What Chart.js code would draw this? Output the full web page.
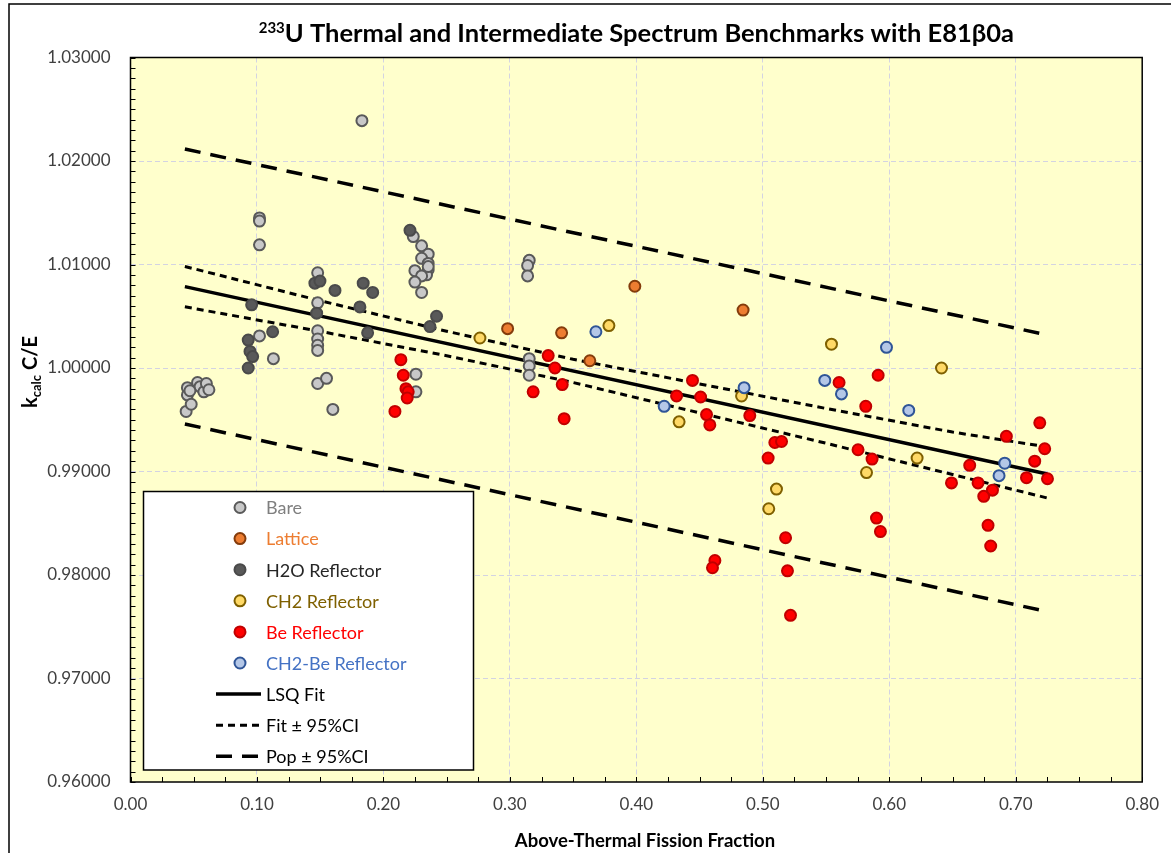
<!DOCTYPE html>
<html>
<head>
<meta charset="utf-8">
<script src="https://cdn.jsdelivr.net/npm/chart.js@4.4.1/dist/chart.umd.min.js"></script>
<style>
  html, body { margin: 0; padding: 0; background: #fff; }
  #wrap { width: 1171px; height: 853px; position: relative; }
</style>
</head>
<body>
<div id="wrap"><canvas id="chart"></canvas></div>
<script>
// values
const bareX = [0.045, 0.045, 0.044, 0.048, 0.053, 0.055, 0.058, 0.060, 0.062, 0.047,
  0.102, 0.102, 0.102, 0.102, 0.113,
  0.148, 0.148, 0.148, 0.148, 0.148, 0.148, 0.148, 0.155, 0.160,
  0.183,
  0.2236, 0.2302, 0.2354, 0.2302, 0.2354, 0.2354, 0.2341, 0.2249, 0.2302, 0.2249, 0.2302, 0.2354,
  0.2257, 0.2257,
  0.3153, 0.314, 0.314, 0.3153, 0.3153, 0.3153];
const bareY = [0.9981, 0.9974, 0.9958, 0.9965, 0.9986, 0.9982, 0.9977, 0.9985, 0.9979, 0.9978,
  1.0145, 1.0142, 1.0119, 1.0031, 1.0009,
  1.0092, 1.0063, 1.0036, 1.0028, 1.0022, 1.0017, 0.9985, 0.9990, 0.9960,
  1.0239,
  1.0127, 1.0118, 1.0110, 1.0106, 1.0101, 1.0095, 1.0090, 1.0094, 1.0089, 1.0083, 1.0073, 1.0098,
  0.9994, 0.9977,
  1.0104, 1.0099, 1.0089, 1.0009, 1.0002, 0.9993];

const latticeX = [0.2982, 0.3409, 0.3632, 0.3988, 0.4844];
const latticeY = [1.0038, 1.0034, 1.0007, 1.0079, 1.0056];

const h2oX = [0.0958, 0.0931, 0.0945, 0.0966, 0.0931, 0.1124, 0.1458, 0.1498, 0.1472,
  0.1617, 0.184, 0.1915, 0.1814, 0.1875, 0.2368, 0.242, 0.221];
const h2oY = [1.0061, 1.0027, 1.0016, 1.0011, 1.0000, 1.0035, 1.0082, 1.0084, 1.0053,
  1.0075, 1.0082, 1.0073, 1.0059, 1.0034, 1.0040, 1.0050, 1.0133];

const ch2X = [0.2763, 0.3783, 0.4338, 0.4832, 0.5543, 0.6413, 0.622, 0.582, 0.5108, 0.5047];
const ch2Y = [1.0029, 1.0041, 0.9948, 0.9973, 1.0023, 1.0000, 0.9913, 0.9899, 0.9883, 0.9864];

const beX = [0.2138, 0.2157, 0.2178, 0.2196, 0.2188, 0.2091, 0.3303, 0.3356, 0.3414, 0.3184,
  0.3429, 0.4444, 0.4318, 0.4508, 0.4555, 0.4581, 0.4897, 0.4621, 0.4602, 0.5912,
  0.5603, 0.5814, 0.719, 0.6926, 0.7229, 0.5753, 0.5864, 0.5095, 0.5148, 0.5042,
  0.6636, 0.715, 0.7085, 0.7251, 0.6492, 0.6702, 0.6816, 0.6747, 0.5899, 0.593,
  0.6781, 0.6802, 0.518, 0.5195, 0.5219];
const beY = [1.0008, 0.9993, 0.9980, 0.9977, 0.9971, 0.9958, 1.0012, 1.0000, 0.9984, 0.9977,
  0.9951, 0.9988, 0.9973, 0.9972, 0.9955, 0.9945, 0.9954, 0.9814, 0.9807, 0.9993,
  0.9986, 0.9963, 0.9947, 0.9934, 0.9922, 0.9921, 0.9912, 0.9928, 0.9929, 0.9913,
  0.9906, 0.9910, 0.9894, 0.9893, 0.9889, 0.9889, 0.9882, 0.9876, 0.9855, 0.9842,
  0.9848, 0.9828, 0.9836, 0.9804, 0.9761];

const ch2BeX = [0.368, 0.422, 0.4852, 0.549, 0.5622, 0.5978, 0.6154, 0.6913, 0.6868];
const ch2BeY = [1.0035, 0.9963, 0.9981, 0.9988, 0.9975, 1.0020, 0.9959, 0.9908, 0.9896];

const fitX = [0.043, 0.725];
const fitY = [1.00786, 0.98976];

const ciX = [0.043, 0.15, 0.25, 0.35, 0.45, 0.55, 0.65, 0.725];
const ciUpper = [1.00981, 1.00650, 1.00355, 1.00084, 0.99846, 0.99609, 0.99381, 0.99237];
const ciLower = [1.00591, 1.00354, 1.00119, 0.99860, 0.99566, 0.99273, 0.98971, 0.98744];

const popX = [0.043, 0.725];
const popUpper = [1.02116, 1.00319];
const popLower = [0.99459, 0.97646];

const FONT = 'Lato, "Open Sans", sans-serif';
const pts = (xs, ys) => xs.map((x, i) => ({ x, y: ys[i] }));

function markerSet(label, xs, ys, fill, edge, order) {
  return {
    type: 'scatter', label, data: pts(xs, ys),
    backgroundColor: fill, borderColor: edge,
    pointRadius: 5.5, pointBorderWidth: 2, pointHoverRadius: 5.5, order
  };
}

function lineSet(label, xs, ys, width, dash) {
  return {
    type: 'line', label, data: pts(xs, ys),
    borderColor: '#000', borderWidth: width, borderDash: dash,
    pointRadius: 0, fill: false, tension: 0, order: 10
  };
}

const legendRows = [
  { text: 'Bare', ds: 0, color: '#7f7f7f' },
  { text: 'Lattice', ds: 1, color: '#ed7d31' },
  { text: 'H2O Reflector', ds: 2, color: '#262626' },
  { text: 'CH2 Reflector', ds: 3, color: '#7f6000' },
  { text: 'Be Reflector', ds: 4, color: '#ff0000' },
  { text: 'CH2-Be Reflector', ds: 5, color: '#4472c4' },
  { text: 'LSQ Fit', ds: 6, color: '#000' },
  { text: 'Fit \u00b1 95%CI', ds: 7, color: '#000' },
  { text: 'Pop \u00b1 95%CI', ds: 9, color: '#000' }
];

const decor = {
  id: 'decor',
  beforeDraw(chart) {
    const { ctx, chartArea: a } = chart;
    ctx.save();
    ctx.fillStyle = '#fff';
    ctx.fillRect(0, 0, chart.width, chart.height);
    ctx.strokeStyle = '#000';
    ctx.lineWidth = 1.5;
    ctx.beginPath();
    ctx.moveTo(9, chart.height);
    ctx.lineTo(9, 4);
    ctx.lineTo(chart.width, 4);
    ctx.stroke();
    ctx.fillStyle = '#ffffcc';
    ctx.fillRect(a.left, a.top, a.right - a.left, a.bottom - a.top);
    ctx.restore();
  },
  beforeDatasetsDraw(chart) {
    const { ctx, chartArea: a, scales: { x, y } } = chart;
    ctx.save();
    ctx.strokeStyle = '#000';
    ctx.lineWidth = 1;
    ctx.beginPath();
    for (let v = 960; v <= 1030; v++) {
      const py = Math.round(y.getPixelForValue(v / 1000)) + 0.5;
      ctx.moveTo(a.left, py);
      ctx.lineTo(a.left + 5, py);
    }
    for (let k = 0; k <= 32; k++) {
      const px = Math.round(x.getPixelForValue(k * 0.025)) + 0.5;
      ctx.moveTo(px, a.bottom);
      ctx.lineTo(px, a.bottom - 5);
    }
    ctx.stroke();
    ctx.lineWidth = 1.5;
    ctx.strokeRect(a.left, a.top, a.right - a.left, a.bottom - a.top);
    ctx.restore();
  },
  afterDraw(chart) {
    const { ctx, chartArea: a } = chart;
    ctx.save();
    ctx.fillStyle = '#000';
    ctx.textBaseline = 'alphabetic';

    // title with superscript
    const big = 'bold 25.5px ' + FONT, small = 'bold 15px ' + FONT;
    const rest = 'U Thermal and Intermediate Spectrum Benchmarks with E81\u03b20a';
    ctx.font = small; const wSup = ctx.measureText('233').width;
    ctx.font = big; const wRest = ctx.measureText(rest).width;
    let tx = (a.left + a.right) / 2 - (wSup + wRest) / 2;
    ctx.font = small; ctx.fillText('233', tx, 33);
    ctx.font = big; ctx.fillText(rest, tx + wSup, 42);

    // x axis title
    ctx.font = 'bold 18.5px ' + FONT;
    ctx.textAlign = 'center';
    ctx.fillText('Above-Thermal Fission Fraction', 645, 847);

    // y axis title with subscript
    ctx.save();
    ctx.translate(37, 372);
    ctx.rotate(-Math.PI / 2);
    const yBig = 'bold 20px ' + FONT, ySmall = 'bold 13px ' + FONT;
    ctx.textAlign = 'left';
    ctx.font = yBig; const wk = ctx.measureText('k').width, wce = ctx.measureText(' C/E').width;
    ctx.font = ySmall; const wc = ctx.measureText('calc').width;
    let sx = -(wk + wc + wce) / 2;
    ctx.font = yBig; ctx.fillText('k', sx, 0);
    ctx.font = ySmall; ctx.fillText('calc', sx + wk, 4);
    ctx.font = yBig; ctx.fillText(' C/E', sx + wk + wc, 0);
    ctx.restore();

    // legend box
    const bx = 143.5, by = 491.5, bw = 330, bh = 278.5;
    ctx.fillStyle = '#fff';
    ctx.fillRect(bx, by, bw, bh);
    ctx.strokeStyle = '#000';
    ctx.lineWidth = 1.5;
    ctx.strokeRect(bx, by, bw, bh);
    ctx.font = '18px ' + FONT;
    ctx.textAlign = 'left';
    ctx.textBaseline = 'middle';
    legendRows.forEach((row, i) => {
      const ry = 507.5 + i * 31.1;
      const ds = chart.data.datasets[row.ds];
      if (ds.type === 'scatter') {
        ctx.beginPath();
        ctx.arc(240, ry, 5.5, 0, Math.PI * 2);
        ctx.fillStyle = ds.backgroundColor;
        ctx.fill();
        ctx.lineWidth = 2;
        ctx.strokeStyle = ds.borderColor;
        ctx.stroke();
      } else {
        ctx.beginPath();
        ctx.setLineDash(ds.borderDash);
        ctx.lineWidth = ds.borderWidth;
        ctx.strokeStyle = '#000';
        ctx.moveTo(216, ry);
        ctx.lineTo(261, ry);
        ctx.stroke();
        ctx.setLineDash([]);
      }
      ctx.fillStyle = row.color;
      ctx.fillText(row.text, 266, ry + 1);
    });
    ctx.restore();
  }
};

new Chart(document.getElementById('chart'), {
  data: {
    datasets: [
      markerSet('Bare', bareX, bareY, '#c8c8c8', '#595959', 6),
      markerSet('Lattice', latticeX, latticeY, '#ed7d31', '#843c0c', 5),
      markerSet('H2O Reflector', h2oX, h2oY, '#595959', '#4a4a4a', 4),
      markerSet('CH2 Reflector', ch2X, ch2Y, '#ffd966', '#7f6000', 3),
      markerSet('Be Reflector', beX, beY, '#ff0000', '#c00000', 2),
      markerSet('CH2-Be Reflector', ch2BeX, ch2BeY, '#b4c7e7', '#2f5597', 1),
      lineSet('LSQ Fit', fitX, fitY, 3.5, []),
      lineSet('Fit + 95%CI', ciX, ciUpper, 3, [7, 5]),
      lineSet('Fit - 95%CI', ciX, ciLower, 3, [7, 5]),
      lineSet('Pop + 95%CI', popX, popUpper, 3.5, [16, 10]),
      lineSet('Pop - 95%CI', popX, popLower, 3.5, [16, 10])
    ]
  },
  options: {
    responsive: true,
    maintainAspectRatio: false,
    animation: false,
    events: [],
    layout: { padding: { left: 0, right: 28.5, top: 57.5, bottom: 0 } },
    plugins: {
      legend: { display: false },
      tooltip: { enabled: false },
      title: { display: false }
    },
    scales: {
      x: {
        type: 'linear',
        min: 0, max: 0.8,
        afterFit: (s) => { s.height = 71; },
        ticks: {
          stepSize: 0.1, padding: 12, color: '#404040',
          font: { family: FONT, size: 17 },
          callback: (v) => v.toFixed(2)
        },
        grid: {
          drawTicks: false, color: (c) => (c.tick && (c.tick.value <= 0.0001 || c.tick.value >= 0.7999)) ? 'rgba(0,0,0,0)' : '#d3d3e2',
          lineWidth: 1
        },
        border: { display: false, dash: [5, 3] }
      },
      y: {
        type: 'linear',
        min: 0.96, max: 1.03,
        afterFit: (s) => { s.width = 130.5; },
        ticks: {
          stepSize: 0.01, padding: 20, color: '#404040',
          font: { family: FONT, size: 17 },
          callback: (v) => v.toFixed(5)
        },
        grid: {
          drawTicks: false, color: (c) => (c.tick && (c.tick.value <= 0.9601 || c.tick.value >= 1.0299)) ? 'rgba(0,0,0,0)' : '#d3d3e2',
          lineWidth: 1
        },
        border: { display: false, dash: [5, 3] }
      }
    }
  },
  plugins: [decor]
});
</script>
</body>
</html>
